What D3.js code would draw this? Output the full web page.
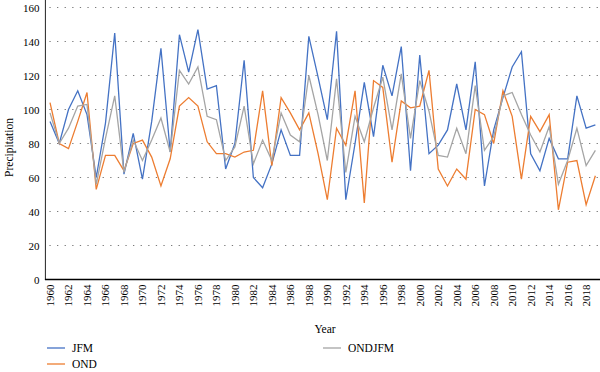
<!DOCTYPE html>
<html>
<head>
<meta charset="utf-8">
<script src="https://cdn.jsdelivr.net/npm/d3@7/dist/d3.min.js"></script>
<style>
  body { margin: 0; background: #fff; }
  svg text { font-family: "Liberation Serif", "Times New Roman", serif; fill: #000; }
</style>
</head>
<body>
<svg id="chart" width="600" height="372"></svg>
<script>
'use strict'

/****** DATA ******/

const years = [1960, 1961, 1962, 1963, 1964, 1965, 1966, 1967, 1968, 1969,
               1970, 1971, 1972, 1973, 1974, 1975, 1976, 1977, 1978, 1979,
               1980, 1981, 1982, 1983, 1984, 1985, 1986, 1987, 1988, 1989,
               1990, 1991, 1992, 1993, 1994, 1995, 1996, 1997, 1998, 1999,
               2000, 2001, 2002, 2003, 2004, 2005, 2006, 2007, 2008, 2009,
               2010, 2011, 2012, 2013, 2014, 2015, 2016, 2017, 2018, 2019]

const jfm = [93, 80, 100, 111, 97, 60, 92, 145, 62, 86,
             59, 93, 136, 75, 144, 122, 147, 112, 114, 65,
             80, 129, 60, 54, 68, 88, 73, 73, 143, 119,
             94, 146, 47, 80, 116, 84, 126, 108, 137, 64,
             132, 74, 79, 88, 115, 88, 128, 55, 88, 107,
             125, 134, 74, 64, 83, 71, 71, 108, 89, 91]

const ond = [104, 80, 77, 93, 110, 53, 73, 73, 64, 80,
             82, 72, 55, 71, 102, 107, 102, 81, 74, 74,
             72, 75, 76, 111, 67, 107, 98, 88, 98, 74,
             47, 89, 79, 111, 45, 117, 113, 69, 105, 101,
             102, 123, 65, 55, 65, 59, 100, 97, 80, 111,
             96, 59, 96, 87, 97, 41, 69, 70, 44, 61]

const ondjfm = [98, 80, 89, 102, 103, 56, 83, 108, 63, 82,
                70, 82, 95, 75, 123, 115, 125, 96, 94, 70,
                78, 102, 68, 82, 70, 98, 85, 81, 120, 97,
                70, 118, 63, 96, 81, 101, 119, 88, 121, 83,
                117, 99, 73, 72, 89, 74, 114, 76, 84, 108,
                110, 97, 85, 75, 90, 56, 70, 89, 67, 76]

const yTicks = [0, 20, 40, 60, 80, 100, 120, 140, 160]
const xTicks = [1960, 1962, 1964, 1966, 1968, 1970, 1972, 1974, 1976, 1978,
                1980, 1982, 1984, 1986, 1988, 1990, 1992, 1994, 1996, 1998,
                2000, 2002, 2004, 2006, 2008, 2010, 2012, 2014, 2016, 2018]

const series = [
  { name: 'JFM', values: jfm, color: '#4472c4' },
  { name: 'OND', values: ond, color: '#ed7d31' },
  { name: 'ONDJFM', values: ondjfm, color: '#a5a5a5' }
]

/****** CHART ******/

const svg = d3.select('#chart')

const plot = { left: 45.4, right: 600, top: 7.5, bottom: 279.5 }

const x = d3.scaleBand()
  .domain(years)
  .range([plot.left, plot.right])
const cx = d => x(d) + x.bandwidth() / 2

const y = d3.scaleLinear()
  .domain([0, 160])
  .range([plot.bottom, plot.top])

// dotted gridlines (not at 0)
svg.append('g')
  .selectAll('line')
  .data(yTicks.filter(v => v > 0))
  .join('line')
    .attr('x1', plot.left + 4)
    .attr('x2', plot.right)
    .attr('y1', d => y(d))
    .attr('y2', d => y(d))
    .attr('stroke', '#7a7a7a')
    .attr('stroke-width', 1)
    .attr('stroke-dasharray', '1.3,6.3')

// y axis labels
const yAxis = svg.append('g')
  .attr('transform', `translate(${plot.left},0)`)
  .call(d3.axisLeft(y).tickValues(yTicks).tickSize(0).tickPadding(6))
yAxis.select('.domain').remove()
yAxis.selectAll('text')
  .style('font-family', '"Liberation Serif", serif')
  .style('font-size', '11px')
  .attr('fill', '#000')

// left axis line
svg.append('line')
  .attr('x1', plot.left).attr('x2', plot.left)
  .attr('y1', 0).attr('y2', plot.bottom)
  .attr('stroke', '#222')
  .attr('stroke-width', 1)

// x axis
const xAxis = svg.append('g')
  .attr('transform', `translate(0,${plot.bottom})`)
  .call(d3.axisBottom(x).tickValues(xTicks).tickSize(0).tickPadding(0))
xAxis.select('.domain').remove()
xAxis.selectAll('text')
  .style('font-family', '"Liberation Serif", serif')
  .style('font-size', '11px')
  .attr('fill', '#000')
  .style('text-anchor', 'end')
  .attr('dx', '-0.45em')
  .attr('dy', '0.35em')
  .attr('y', 0)
  .attr('transform', 'rotate(-90)')

svg.append('line')
  .attr('x1', plot.left - 0.5).attr('x2', plot.right)
  .attr('y1', plot.bottom).attr('y2', plot.bottom)
  .attr('stroke', '#000')
  .attr('stroke-width', 1.6)

// lines
const line = d3.line()
  .x((d, i) => cx(years[i]))
  .y(d => y(d))

svg.append('g')
  .selectAll('path')
  .data(series)
  .join('path')
    .attr('d', d => line(d.values))
    .attr('fill', 'none')
    .attr('stroke', d => d.color)
    .attr('stroke-width', 1.3)
    .attr('stroke-linejoin', 'miter')

// axis titles
svg.append('text')
  .attr('transform', `translate(13,${(plot.top + plot.bottom) / 2 + 4}) rotate(-90)`)
  .attr('text-anchor', 'middle')
  .style('font-size', '11.5px')
  .text('Precipitation')

svg.append('text')
  .attr('x', 325)
  .attr('y', 333)
  .attr('text-anchor', 'middle')
  .style('font-size', '11.5px')
  .text('Year')

// legend
const legendPos = [
  { x: 47, y: 348 },
  { x: 47, y: 364 },
  { x: 323, y: 348 }
]

const legend = svg.append('g')
  .selectAll('g')
  .data(series)
  .join('g')
    .attr('transform', (d, i) => `translate(${legendPos[i].x},${legendPos[i].y})`)

legend.append('line')
  .attr('x1', 0).attr('x2', 18)
  .attr('stroke', d => d.color)
  .attr('stroke-width', 1.3)

legend.append('text')
  .attr('x', 25)
  .attr('dy', '0.35em')
  .style('font-size', '11.5px')
  .text(d => d.name)
</script>
</body>
</html>
